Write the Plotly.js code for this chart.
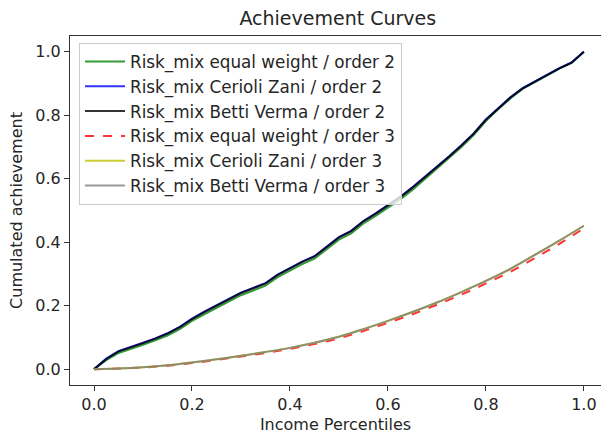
<!DOCTYPE html>
<html>
<head>
<meta charset="utf-8">
<script src="https://cdn.plot.ly/plotly-3.0.1.min.js"></script>
<style>html,body{margin:0;padding:0;background:#fff}#chart{width:601px;height:435px}</style>
</head>
<body>
<div id="chart"></div>
<script>
// Income percentiles (x) for order-2 curves
const xOrder2 = [0, 0.025, 0.05, 0.075, 0.1, 0.125, 0.15, 0.175, 0.2, 0.225, 0.25, 0.275, 0.3, 0.325, 0.35, 0.375, 0.4, 0.425, 0.45, 0.475, 0.5, 0.525, 0.55, 0.575, 0.6, 0.625, 0.65, 0.675, 0.7, 0.725, 0.75, 0.775, 0.8, 0.825, 0.85, 0.875, 0.9, 0.925, 0.95, 0.975, 1.0];
const equalWeight2 = [0, 0.028, 0.051, 0.063, 0.077, 0.091, 0.106, 0.126, 0.152, 0.173, 0.193, 0.215, 0.233, 0.248, 0.263, 0.290, 0.311, 0.331, 0.348, 0.378, 0.408, 0.428, 0.459, 0.483, 0.509, 0.535, 0.565, 0.598, 0.632, 0.665, 0.700, 0.738, 0.782, 0.819, 0.853, 0.883, 0.905, 0.927, 0.947, 0.965, 1.0];
const ceroliZani2 = [0, 0.033, 0.057, 0.069, 0.083, 0.097, 0.113, 0.133, 0.159, 0.181, 0.201, 0.223, 0.241, 0.256, 0.271, 0.298, 0.319, 0.339, 0.356, 0.386, 0.416, 0.436, 0.467, 0.491, 0.517, 0.543, 0.573, 0.605, 0.639, 0.671, 0.706, 0.743, 0.787, 0.823, 0.857, 0.886, 0.907, 0.929, 0.949, 0.967, 1.0];
const bettiVerma2 = [0, 0.032, 0.056, 0.068, 0.082, 0.096, 0.112, 0.132, 0.158, 0.180, 0.200, 0.222, 0.240, 0.255, 0.270, 0.297, 0.318, 0.338, 0.355, 0.385, 0.415, 0.435, 0.466, 0.490, 0.516, 0.542, 0.572, 0.604, 0.638, 0.670, 0.705, 0.742, 0.786, 0.822, 0.856, 0.885, 0.906, 0.928, 0.948, 0.966, 1.0];

// Income percentiles (x) for order-3 curves
const xOrder3 = [0, 0.05, 0.1, 0.15, 0.2, 0.25, 0.3, 0.35, 0.4, 0.45, 0.5, 0.55, 0.6, 0.65, 0.7, 0.75, 0.8, 0.85, 0.9, 0.95, 1.0];
const equalWeight3 = [0, 0.002, 0.005, 0.011, 0.019, 0.029, 0.040, 0.051, 0.064, 0.079, 0.097, 0.120, 0.146, 0.173, 0.203, 0.235, 0.270, 0.307, 0.350, 0.395, 0.444];
const ceroliZani3 = [0, 0.002, 0.006, 0.012, 0.021, 0.031, 0.042, 0.054, 0.067, 0.083, 0.102, 0.126, 0.152, 0.180, 0.210, 0.243, 0.278, 0.316, 0.360, 0.405, 0.452];
const bettiVerma3 = [0, 0.002, 0.006, 0.012, 0.021, 0.031, 0.042, 0.054, 0.067, 0.083, 0.102, 0.126, 0.152, 0.180, 0.210, 0.243, 0.278, 0.316, 0.360, 0.405, 0.452];

const seriesNames = [
  "Risk_mix equal weight / order 2",
  "Risk_mix Cerioli Zani / order 2",
  "Risk_mix Betti Verma / order 2",
  "Risk_mix equal weight / order 3",
  "Risk_mix Cerioli Zani / order 3",
  "Risk_mix Betti Verma / order 3"
];
const seriesX = [xOrder2, xOrder2, xOrder2, xOrder3, xOrder3, xOrder3];
const seriesY = [equalWeight2, ceroliZani2, bettiVerma2, equalWeight3, ceroliZani3, bettiVerma3];
const colors = ["rgba(0,128,0,0.8)", "rgba(0,0,255,0.8)", "rgba(0,0,0,0.8)", "rgba(255,0,0,0.8)", "rgba(191,191,0,0.8)", "rgba(128,128,128,0.8)"];
const dashes = ["solid", "solid", "solid", "dash", "solid", "solid"];

const traces = seriesNames.map((name, i) => ({
  type: "scatter",
  mode: "lines",
  name: name,
  x: seriesX[i],
  y: seriesY[i],
  line: {color: colors[i], width: 2, dash: dashes[i], shape: i < 3 ? "linear" : "spline"}
}));

const font = "DejaVu Sans, sans-serif";
const layout = {
  width: 601,
  height: 435,
  margin: {l: 70, r: 0, t: 36, b: 50},
  paper_bgcolor: "#fff",
  plot_bgcolor: "#fff",
  font: {family: font, size: 16, color: "#262626"},
  title: {text: "Achievement Curves", font: {family: font, size: 19, color: "#262626"}, x: 0.562, xanchor: "center", y: 0.958, yanchor: "middle"},
  xaxis: {
    range: [-0.049, 1.035],
    tickvals: [0, 0.2, 0.4, 0.6, 0.8, 1.0],
    ticktext: ["0.0", "0.2", "0.4", "0.6", "0.8", "1.0"],
    ticks: "outside", ticklen: 5, tickcolor: "#333", tickwidth: 1,
    showgrid: false, zeroline: false,
    showline: true, linecolor: "#333", linewidth: 1, mirror: true,
    title: {text: "Income Percentiles", font: {family: font, size: 16}, standoff: 5},
    tickfont: {family: font, size: 16}
  },
  yaxis: {
    range: [-0.05, 1.05],
    tickvals: [0, 0.2, 0.4, 0.6, 0.8, 1.0],
    ticktext: ["0.0", "0.2", "0.4", "0.6", "0.8", "1.0"],
    ticks: "outside", ticklen: 5, tickcolor: "#333", tickwidth: 1,
    showgrid: false, zeroline: false,
    showline: true, linecolor: "#333", linewidth: 1, mirror: true,
    title: {text: "Cumulated achievement", font: {family: font, size: 16}, standoff: 8},
    tickfont: {family: font, size: 16}
  },
  showlegend: true,
  legend: {
    x: 0.017, y: 0.98, xanchor: "left", yanchor: "top",
    bgcolor: "rgba(255,255,255,0.8)", bordercolor: "#ccc", borderwidth: 1,
    font: {family: font, size: 16.8, color: "#262626"},
    itemwidth: 40
  }
};

Plotly.newPlot("chart", traces, layout, {displayModeBar: false, staticPlot: true});
</script>
</body>
</html>
